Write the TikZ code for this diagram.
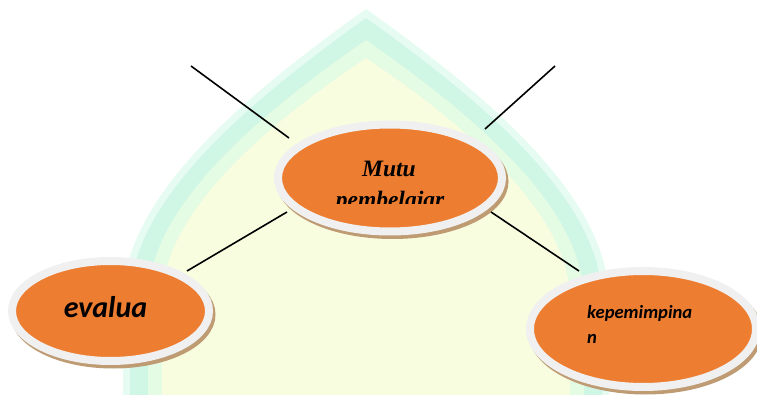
\documentclass[tikz,border=0pt]{standalone}
\usepackage{fontspec}
\newfontfamily\timesf{Liberation Serif}
\newfontfamily\calibf{Carlito}
\usetikzlibrary{shapes.geometric}

\definecolor{domeedge}{RGB}{230,251,242}
\definecolor{domeband}{RGB}{208,247,229}
\definecolor{domemid}{RGB}{228,251,228}
\definecolor{domein}{RGB}{249,253,224}
\definecolor{bubble}{RGB}{237,125,49}
\definecolor{bubblering}{RGB}{240,240,240}
\definecolor{bubbleshadow}{RGB}{190,155,115}

\tikzset{
  bubblenode/.style={ellipse, fill=bubble, draw=bubblering, line width=8pt,
    inner sep=0pt, preaction={draw=bubbleshadow, line width=8pt,
    transform canvas={shift={(2.5pt,-3.5pt)}}}},
  link/.style={line width=1.6pt, black},
  mutufont/.style={font=\timesf\bfseries\itshape\fontsize{23.5}{31}\selectfont},
  evalfont/.style={font=\calibf\bfseries\itshape\fontsize{30}{32}\selectfont},
  kepfont/.style={font=\calibf\bfseries\itshape\fontsize{18.6}{25}\selectfont},
}

\begin{document}
\begin{tikzpicture}[x=1pt, y=-1pt]
  \useasboundingbox (0,0) rectangle (757,395);

  % faint dome emblem in the background
  \begin{scope}
    \clip (0,0) rectangle (757,395);
    \fill[domeedge] (123,400) -- (123,300) .. controls (123,200) and (238,100) .. (366,9)
      .. controls (494,100) and (609,200) .. (609,300) -- (609,400) -- cycle;
    \fill[domeband] (130,400) -- (130,300) .. controls (130,203) and (243,106) .. (366,18)
      .. controls (489,106) and (602,203) .. (602,300) -- (602,400) -- cycle;
    \fill[domemid] (148,400) -- (148,300) .. controls (148,209) and (254,118) .. (366,40)
      .. controls (478,118) and (584,209) .. (584,300) -- (584,400) -- cycle;
    \fill[domein] (162,400) -- (162,300) .. controls (162,215) and (262,128) .. (366,58)
      .. controls (470,128) and (570,215) .. (570,300) -- (570,400) -- cycle;
  \end{scope}

  % bubbles
  \node[bubblenode, minimum width=224pt, minimum height=107pt] (mutu) at (390,178) {};
  \node[bubblenode, minimum width=197pt, minimum height=100pt] (eval) at (110.5,311) {};
  \node[bubblenode, minimum width=226pt, minimum height=116pt] (kep) at (643,329) {};

  % loose ends of the spokes
  \coordinate (tlend) at (191,66);
  \coordinate (trend) at (555,66);

  % spokes
  \draw[link] (tlend) -- ([shift={(-101,-40)}]mutu.center);
  \draw[link] (trend) -- ([shift={(95,-49)}]mutu.center);
  \draw[link] ([shift={(-103,34)}]mutu.center) -- ([shift={(76.5,-40)}]eval.center);
  \draw[link] ([shift={(101,34)}]mutu.center) -- ([shift={(-64,-58)}]kep.center);

  % labels
  \node[mutufont, anchor=base, inner sep=0pt] (mututxt) at (389,177) {Mutu};
  \begin{scope}
    \clip (280,185) rectangle (500,204);
    \node[mutufont, anchor=base, inner sep=0pt] (pembtxt) at (390,208) {pembelajar};
  \end{scope}
  \node[evalfont, anchor=base, inner sep=0pt] (evaltxt) at (105.5,317) {evalua};
  \node[kepfont, anchor=base west, inner sep=0pt] (keptxt1) at (587,318) {kepemimpina};
  \node[kepfont, anchor=base west, inner sep=0pt] (keptxt2) at (587,343) {n};
\end{tikzpicture}
\end{document}
